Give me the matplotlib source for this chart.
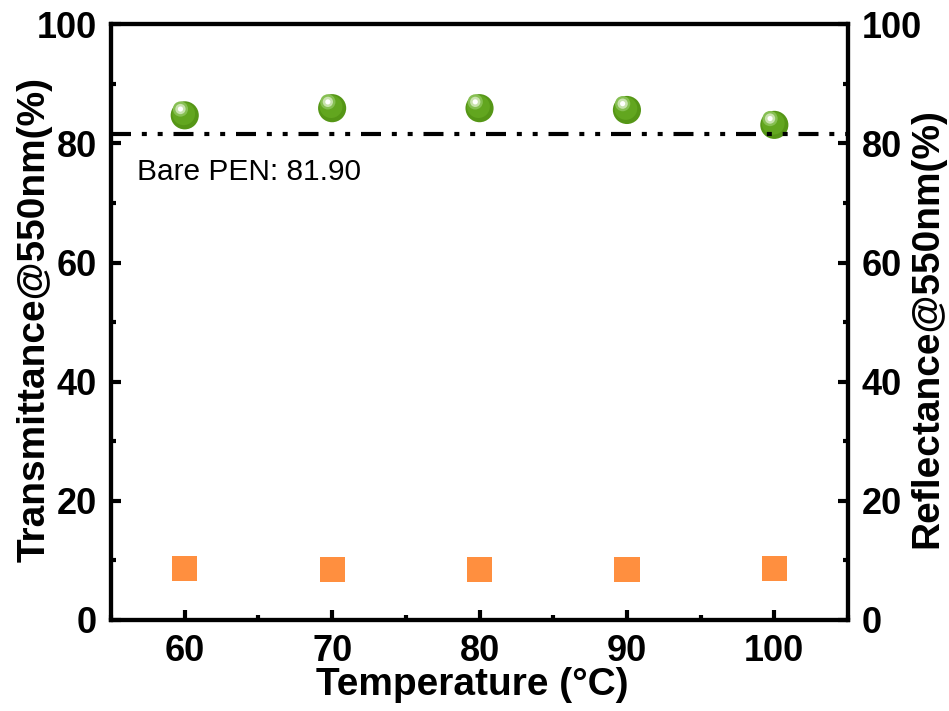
import matplotlib
matplotlib.use("Agg")
import matplotlib.pyplot as plt
from matplotlib.ticker import MultipleLocator

plt.rcParams['font.family'] = ['Liberation Sans', 'DejaVu Sans']

temps = [60, 70, 80, 90, 100]
transmittance = [84.7, 85.9, 85.9, 85.6, 83.1]
reflectance = [8.6, 8.5, 8.5, 8.5, 8.6]
bare_pen = 81.5
bare_label = "Bare PEN: 81.90"

fig = plt.figure(figsize=(9.49, 7.11), dpi=100)
ax = fig.add_axes([0.117, 0.128, 0.7766, 0.838])
ax2 = ax.twinx()

ax.set_xlim(55, 105)
ax.set_ylim(0, 100)
ax2.set_ylim(0, 100)

# transmittance spheres (layered for a shaded look)
layers = [  # (size, colour, fraction of highlight offset)
    (410, '#559616', 0.0),
    (270, '#62a61f', 0.25),
    (120, '#86bf52', 1.0),
    (55, '#c8e2ad', 1.0),
    (14, '#ffffff', 1.0),
]
for i, (size, col, f) in enumerate(layers):
    ax.scatter([t - 0.29 * f for t in temps], [v + 1.06 * f for v in transmittance],
               s=size, color=col, edgecolors='none', zorder=3 + i * 0.1)

# bare PEN reference line
ax.axhline(bare_pen, color='black', lw=3, dashes=[4.8, 2.6, 1.2, 2.6, 1.2, 2.6], zorder=6)
ax.text(56.75, 75.2, bare_label, fontsize=21.5, ha='left', va='center')

# reflectance squares
ax2.scatter(temps, reflectance, s=330, marker='s', color='#ff8f3f', edgecolors='none', zorder=3)

for a in (ax, ax2):
    for s in a.spines.values():
        s.set_linewidth(3)

ax.set_xticks(temps)
ax.xaxis.set_minor_locator(MultipleLocator(5))
ax.yaxis.set_major_locator(MultipleLocator(20))
ax.yaxis.set_minor_locator(MultipleLocator(10))
ax2.yaxis.set_major_locator(MultipleLocator(20))
ax2.yaxis.set_minor_locator(MultipleLocator(10))

ax.tick_params(axis='both', which='major', direction='in', length=7, width=3,
               labelsize=26, pad=10)
ax.tick_params(axis='both', which='minor', direction='in', length=3.5, width=3)
ax.tick_params(axis='y', which='both', right=False)
ax.tick_params(axis='x', which='both', top=False)
ax2.tick_params(axis='y', which='major', direction='in', length=7, width=3,
                labelsize=26, pad=10)
ax2.tick_params(axis='y', which='minor', direction='in', length=3.5, width=3)

for lab in ax.get_xticklabels() + ax.get_yticklabels() + ax2.get_yticklabels():
    lab.set_fontweight('bold')

ax.set_xlabel('Temperature (°C)', fontsize=28, fontweight='bold')
ax.set_ylabel('Transmittance@550nm(%)', fontsize=28, fontweight='bold')
ax2.set_ylabel('Reflectance@550nm(%)', fontsize=28, fontweight='bold')
ax.xaxis.label.set_va('center')
ax.yaxis.label.set_va('center')
ax2.yaxis.label.set_va('center')
ax.xaxis.set_label_coords(0.49, -0.109)
ax.yaxis.set_label_coords(-0.103, 0.505)
ax2.yaxis.set_label_coords(1.107, 0.49)

fig.savefig('out.png', dpi=100)
